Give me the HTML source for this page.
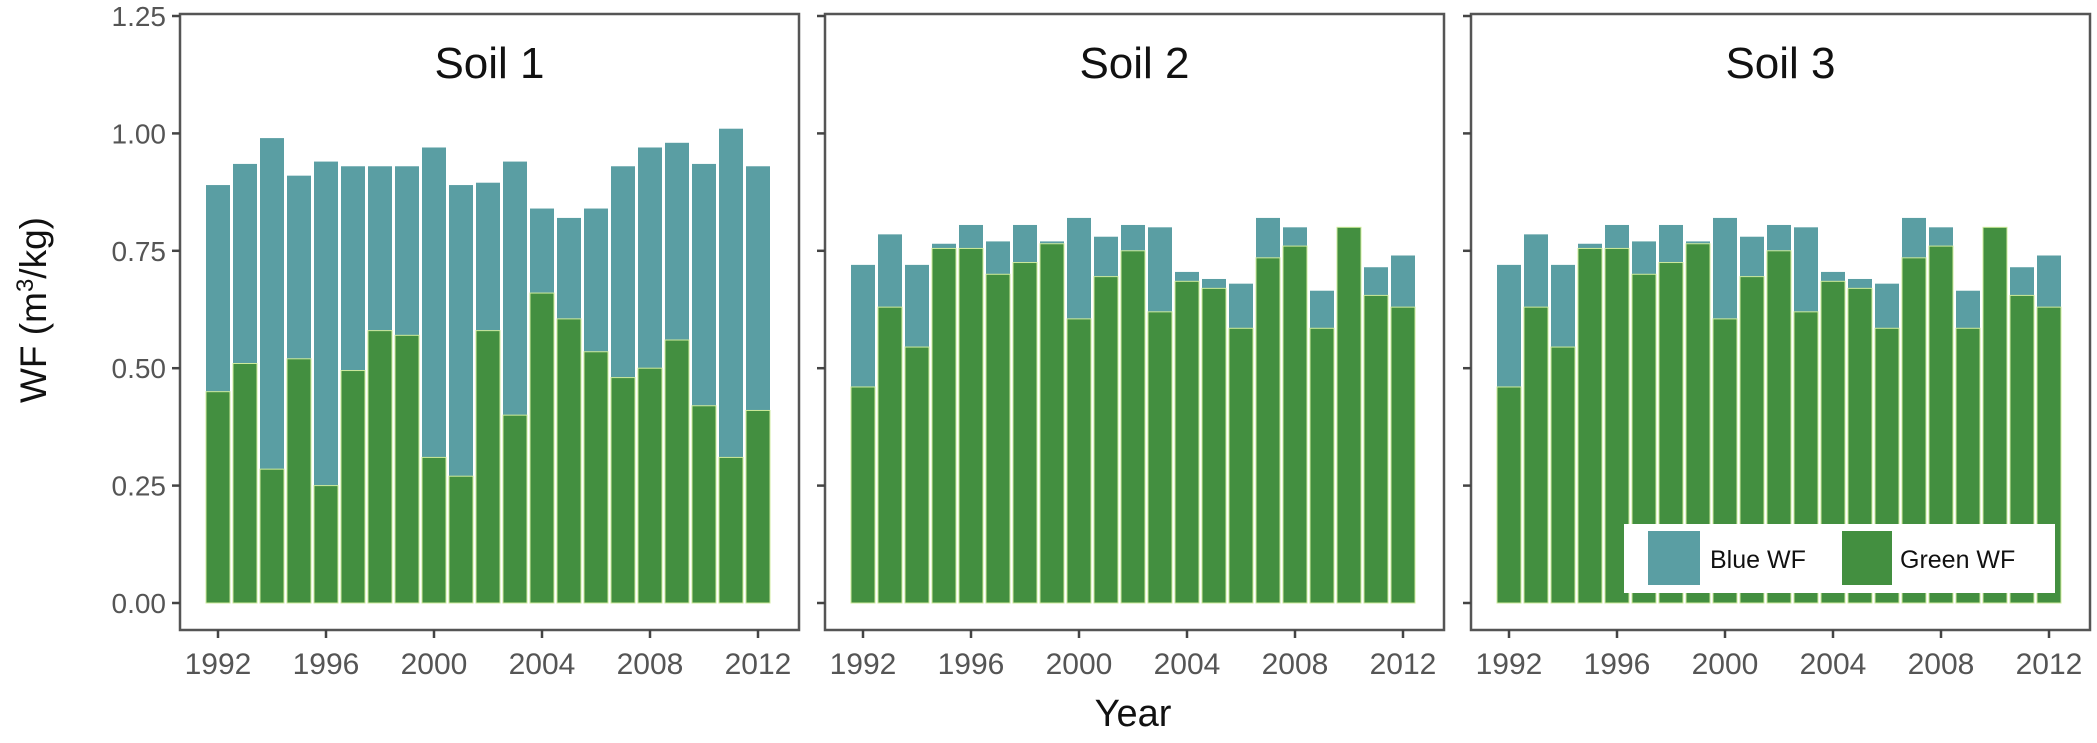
<!DOCTYPE html>
<html><head><meta charset="utf-8"><style>
html,body{margin:0;padding:0;background:#fff;}
svg{display:block;font-family:"Liberation Sans",Arial,sans-serif;}
</style></head><body>
<svg id="chart" width="2097" height="743" viewBox="0 0 2097 743" xmlns="http://www.w3.org/2000/svg"></svg>
<script>
const years = [1992,1993,1994,1995,1996,1997,1998,1999,2000,2001,2002,2003,2004,2005,2006,2007,2008,2009,2010,2011,2012];
const soil1Total = [0.89,0.935,0.99,0.91,0.94,0.93,0.93,0.93,0.97,0.89,0.895,0.94,0.84,0.82,0.84,0.93,0.97,0.98,0.935,1.01,0.93];
const soil1Green = [0.45,0.51,0.285,0.52,0.25,0.495,0.58,0.57,0.31,0.27,0.58,0.40,0.66,0.605,0.535,0.48,0.50,0.56,0.42,0.31,0.41];
const soil2Total = [0.72,0.785,0.72,0.765,0.805,0.77,0.805,0.77,0.82,0.78,0.805,0.80,0.705,0.69,0.68,0.82,0.80,0.665,0.80,0.715,0.74];
const soil2Green = [0.46,0.63,0.545,0.755,0.755,0.70,0.725,0.765,0.605,0.695,0.75,0.62,0.685,0.67,0.585,0.735,0.76,0.585,0.80,0.655,0.63];
const soil3Total = [0.72,0.785,0.72,0.765,0.805,0.77,0.805,0.77,0.82,0.78,0.805,0.80,0.705,0.69,0.68,0.82,0.80,0.665,0.80,0.715,0.74];
const soil3Green = [0.46,0.63,0.545,0.755,0.755,0.70,0.725,0.765,0.605,0.695,0.75,0.62,0.685,0.67,0.585,0.735,0.76,0.585,0.80,0.655,0.63];
const panelTitles = ["Soil 1","Soil 2","Soil 3"];
const yTicks = [0,0.25,0.5,0.75,1.0,1.25];
const yTickLabels = ["0.00","0.25","0.50","0.75","1.00","1.25"];
const xTicks = [1992,1996,2000,2004,2008,2012];

const svgEl = document.getElementById('chart');
const NS = 'http://www.w3.org/2000/svg';
function mk(tag, attrs, parent){const e=document.createElementNS(NS,tag);for(const k in attrs)e.setAttribute(k,attrs[k]);(parent||svgEl).appendChild(e);return e;}
const panelLefts=[180,825,1471];
const panelW=619, plotTop=14, plotBottom=630;
function yScale(v){return 603 - v*(587/1.25);}
function xScaleFor(left){return yr => left + 38 + (yr-1992)*27;}
const totals=[soil1Total,soil2Total,soil3Total], greens=[soil1Green,soil2Green,soil3Green];
const barW=24;

for(let p=0;p<3;p++){
  const L=panelLefts[p], x=xScaleFor(L);
  const g=mk('g',{});
  
  
  for(let i=0;i<years.length;i++){
    const cx=x(years[i]);
    const b=mk('rect',{x:cx-barW/2,y:yScale(totals[p][i]),width:barW,height:yScale(0)-yScale(totals[p][i]),fill:'#5a9ea3'},g);
    
    
    const gr=mk('rect',{x:cx-barW/2,y:yScale(greens[p][i]),width:barW,height:yScale(0)-yScale(greens[p][i]),fill:'#438f40',stroke:'#cfeb9c','stroke-width':1},g);
    
    
  }
  const fr=mk('rect',{x:L,y:plotTop,width:panelW,height:plotBottom-plotTop,fill:'none',stroke:'#555','stroke-width':2.5},g);
  
  
  const t=mk('text',{x:L+panelW/2,y:78,'text-anchor':'middle','font-size':44,fill:'#111'},g);
  t.textContent=panelTitles[p];
  
  
  for(let k=0;k<yTicks.length;k++){
    mk('line',{x1:L-8,x2:L,y1:yScale(yTicks[k]),y2:yScale(yTicks[k]),stroke:'#444','stroke-width':2.5},g);
    if(p===0){
      const tl=mk('text',{x:L-14,y:yScale(yTicks[k])+10,'text-anchor':'end','font-size':28,fill:'#555'},g);
      tl.textContent=yTickLabels[k];
      
      
    }
  }
  for(const xt of xTicks){
    mk('line',{x1:x(xt),x2:x(xt),y1:plotBottom,y2:plotBottom+8,stroke:'#444','stroke-width':2.5},g);
    const tl=mk('text',{x:x(xt),y:674,'text-anchor':'middle','font-size':30,fill:'#555'},g);
    tl.textContent=xt;
    
    
  }
}
const xTitle=mk('text',{x:1133,y:726,'text-anchor':'middle','font-size':38,fill:'#111'});
xTitle.textContent='Year';


const yTitle=mk('text',{x:0,y:0,'text-anchor':'middle','font-size':37,fill:'#111',transform:'translate(46,310) rotate(-90)'});
yTitle.appendChild(document.createTextNode('WF (m'));
const sup=mk('tspan',{dy:-13,'font-size':24},yTitle); sup.textContent='3';
const rest=mk('tspan',{dy:13},yTitle); rest.textContent='/kg)';


const lg=mk('g',{});


mk('rect',{x:1624,y:524,width:431,height:69,fill:'#fff'},lg);
const k1=mk('rect',{x:1648,y:531,width:52,height:54,fill:'#5a9ea3'},lg);


const l1=mk('text',{x:1710,y:568,'font-size':25,fill:'#111'},lg);
l1.textContent='Blue WF';


const k2=mk('rect',{x:1842,y:531,width:50,height:54,fill:'#438f40'},lg);


const l2=mk('text',{x:1900,y:568,'font-size':25,fill:'#111'},lg);
l2.textContent='Green WF';


</script>
</body></html>
